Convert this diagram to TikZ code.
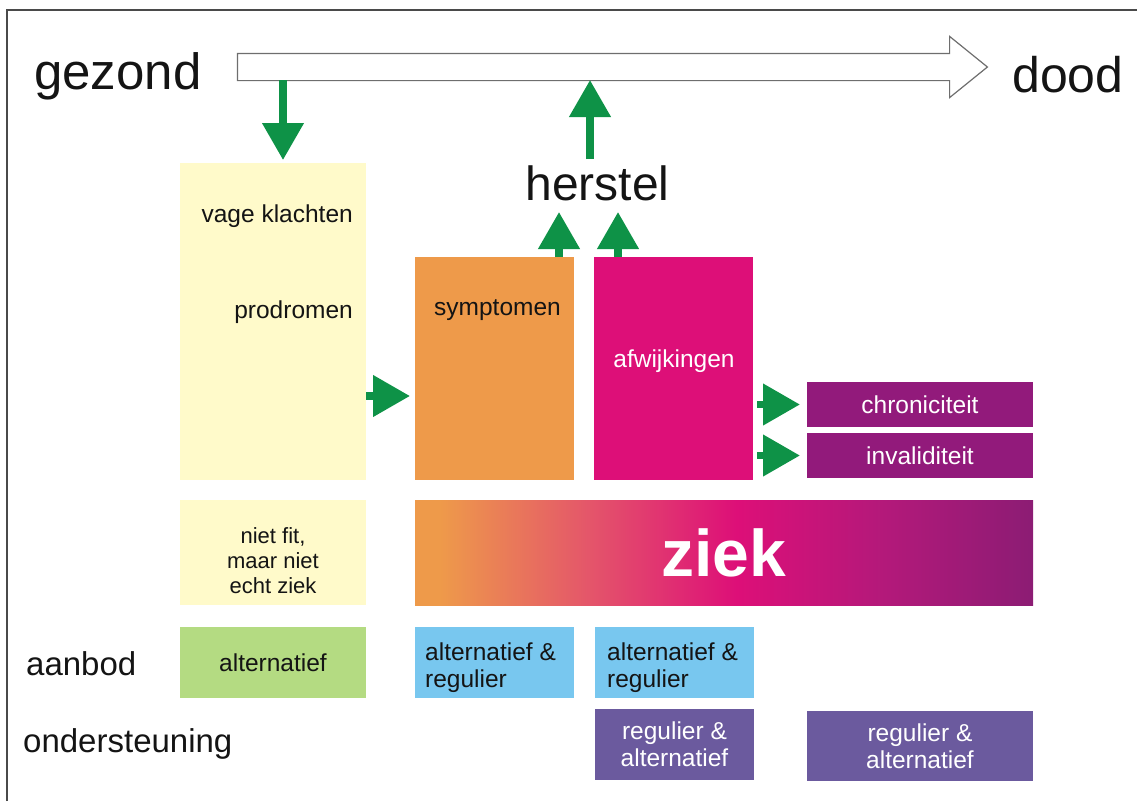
\documentclass[tikz,border=0pt]{standalone}
\usepackage{fontspec}
\setmainfont{Liberation Sans}
\usetikzlibrary{arrows.meta,positioning,shapes.arrows}
\definecolor{Ink}{HTML}{141414}
\definecolor{Frame}{HTML}{4A4A4A}
\definecolor{Leaf}{HTML}{0E9247}
\definecolor{Cream}{HTML}{FFFACA}
\definecolor{Apricot}{HTML}{EE9A4A}
\definecolor{Coral}{HTML}{E4566A}
\definecolor{Fuchsia}{HTML}{DD0F78}
\definecolor{Mulberry}{HTML}{B3197A}
\definecolor{Plum}{HTML}{921A7B}
\definecolor{Grape}{HTML}{8C1C74}
\definecolor{Lime}{HTML}{B4DB82}
\definecolor{Sky}{HTML}{78C7EF}
\definecolor{Iris}{HTML}{6B5A9E}
\pgfdeclarehorizontalshading{ziekfade}{100bp}{color(0bp)=(Apricot); color(27bp)=(Apricot); color(39bp)=(Coral); color(51bp)=(Fuchsia); color(63bp)=(Mulberry); color(75bp)=(Grape); color(100bp)=(Grape)}
\tikzset{
  box/.style={inner sep=0pt,outer sep=0pt},
  txt/.style={inner sep=0pt,text=Ink,font=\fontsize{24.5}{27}\selectfont},
  bigtxt/.style={inner sep=0pt,text=Ink,font=\fontsize{51}{60}\selectfont},
  sidetxt/.style={inner sep=0pt,text=Ink,font=\fontsize{33}{40}\selectfont},
  garrow/.style={draw=Leaf,line width=7.5pt,-{Triangle[width=40pt,length=37pt]}}
}

\begin{document}
\begin{tikzpicture}[x=1pt,y=-1pt]
\useasboundingbox (0,0) rectangle (1137,801);
\draw[Frame,line width=1.2pt] (7,801) -- (7,10) -- (1137,10);

% levenslijn
\node[single arrow,draw=Frame!80,fill=white,line width=1.2pt,minimum height=750,minimum width=60,
  single arrow head extend=17pt,single arrow tip angle=78,inner xsep=0pt,inner ysep=13pt] (life) at (604,67) {};
\node[bigtxt,anchor=base west] (gezond) at (34,89) {gezond};
\node[bigtxt,font=\fontsize{50}{60}\selectfont,anchor=base west] (dood) at (1012,92) {dood};
\node[inner sep=0pt,text=Ink,font=\fontsize{48}{58}\selectfont,anchor=base] (herstel) at (597.5,200) {herstel};

% blokken
\node[box,fill=Cream,minimum width=186,minimum height=317] (prod) at (273,321.5) {};
\node[txt,anchor=base east] (vage) at (353,222) {vage klachten};
\node[txt,anchor=base east] (prodtxt) at (353,318) {prodromen};
\node[box,fill=Apricot,minimum width=159,minimum height=223] (sym) at (494.5,368.5) {};
\node[txt,anchor=base] (symtxt) at (497.5,315) {symptomen};
\node[box,fill=Fuchsia,minimum width=159,minimum height=223] (afw) at (673.5,368.5) {};
\node[txt,text=white,anchor=base] (afwtxt) at (674,367) {afwijkingen};
\node[box,txt,text=white,fill=Plum,minimum width=226,minimum height=45] (chr) at (920,404.5) {chroniciteit};
\node[box,txt,text=white,fill=Plum,minimum width=226,minimum height=45] (inv) at (920,455.5) {invaliditeit};

\node[box,fill=Cream,minimum width=186,minimum height=105] (nfit) at (273,552.5) {};
\node[txt,font=\fontsize{22}{25}\selectfont,align=center,anchor=north] (nfittxt) at (273,527) {niet fit,\\maar niet\\echt ziek};
\node[box,shading=ziekfade,minimum width=618,minimum height=105,text=white,font=\fontsize{66}{70}\selectfont\bfseries] (ziek) at (724,553) {ziek};

% aanbod en ondersteuning
\node[sidetxt,anchor=base west] (aanbod) at (26,675) {aanbod};
\node[sidetxt,anchor=base west] (onder) at (23,752) {ondersteuning};
\node[box,txt,fill=Lime,minimum width=186,minimum height=71] (alt) at (273,662.5) {alternatief};
\node[box,fill=Sky,minimum width=159,minimum height=71] (altreg1) at (494.5,662.5) {};
\node[txt,align=left,anchor=north west] (altreg1txt) at (425,643) {alternatief \&\\regulier};
\node[box,fill=Sky,minimum width=159,minimum height=71] (altreg2) at (674.5,662.5) {};
\node[txt,align=left,anchor=north west] (altreg2txt) at (607,643) {alternatief \&\\regulier};
\node[box,txt,text=white,fill=Iris,minimum width=159,minimum height=71,align=center] (regalt1) at (674.5,744.5) {regulier \&\\alternatief};
\node[box,txt,text=white,fill=Iris,minimum width=226,minimum height=70,align=center] (regalt2) at (920,746) {regulier \&\\alternatief};

% pijlen
\coordinate (fall) at (283,80);
\coordinate (rise) at (590,80);
\coordinate (cure1) at (559,212);
\coordinate (cure2) at (618,212);
\coordinate (push) at (390,396);
\draw[garrow,shorten >=3pt] (fall) -- (fall |- prod.north);
\draw[garrow,shorten <=6pt] (rise |- herstel.north) -- (rise);
\draw[garrow] (cure1 |- sym.north) -- (cure1);
\draw[garrow] (cure2 |- afw.north) -- (cure2);
\draw[garrow,shorten >=5pt] (prod.east |- push) -- (sym.west |- push);
\draw[garrow,shorten <=4pt,shorten >=7pt] (afw.east |- chr.west) -- (chr.west);
\draw[garrow,shorten <=4pt,shorten >=7pt] (afw.east |- inv.west) -- (inv.west);
\end{tikzpicture}
\end{document}
